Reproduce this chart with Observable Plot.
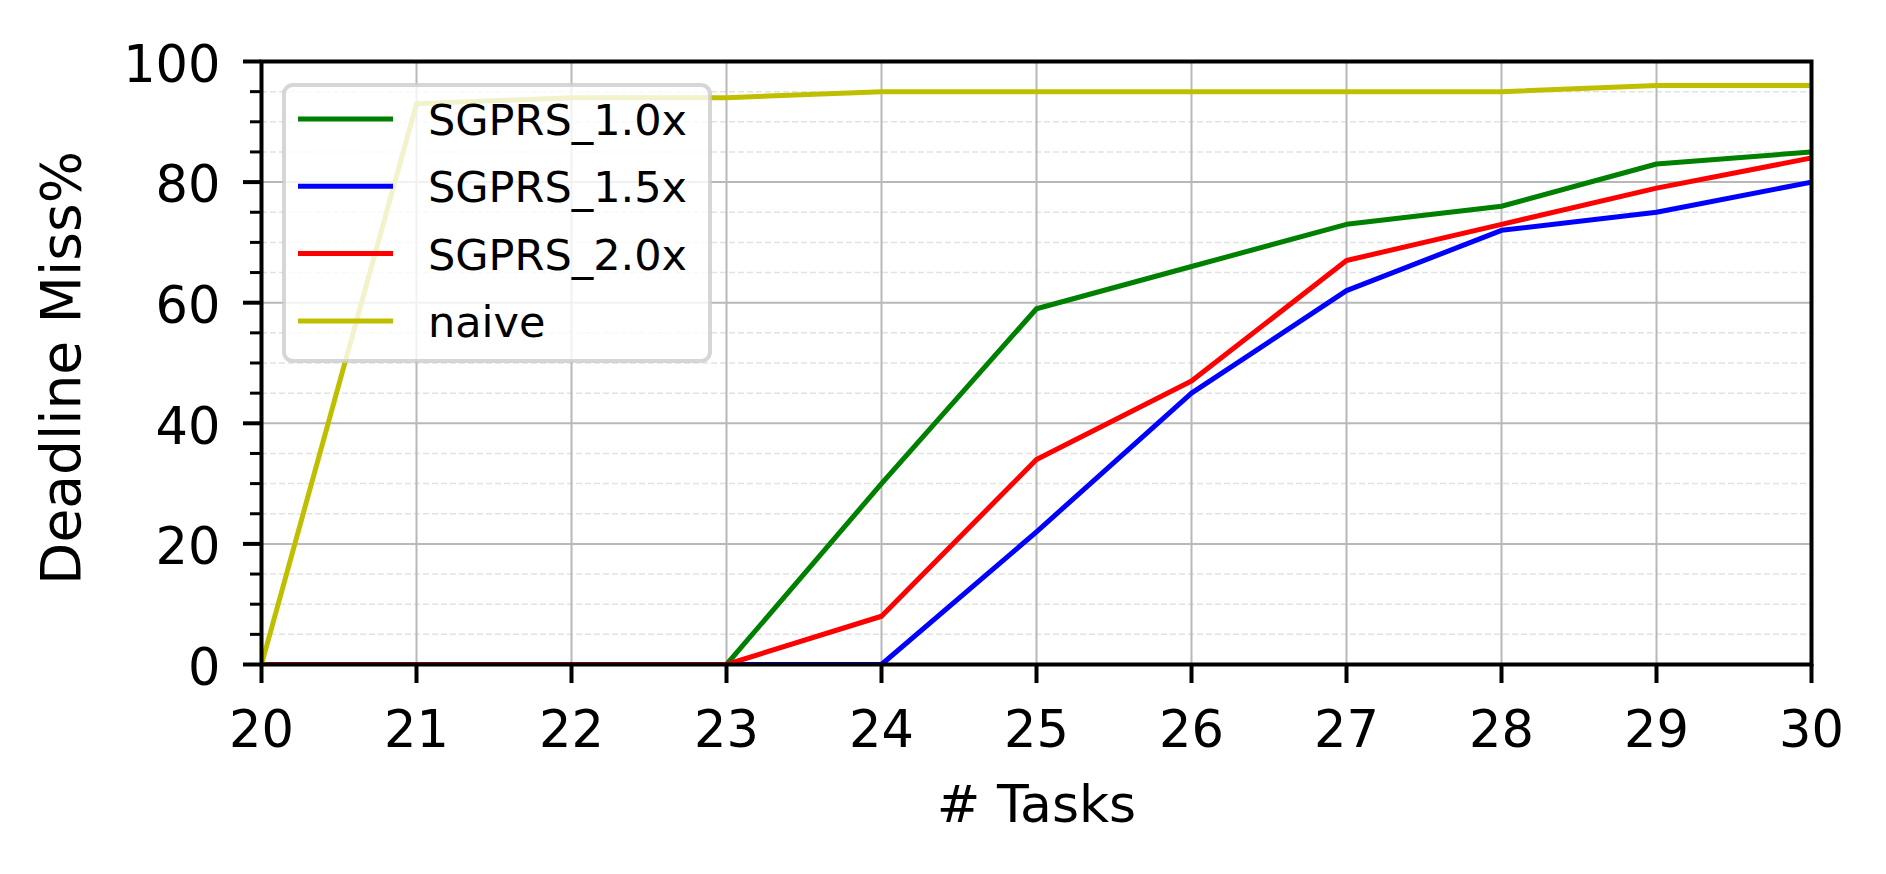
<!DOCTYPE html>
<html>
<head>
<meta charset="utf-8">
<script src="https://cdn.jsdelivr.net/npm/d3@7"></script>
<script src="https://cdn.jsdelivr.net/npm/@observablehq/plot@0.6"></script>
<style>
  html, body { margin: 0; padding: 0; background: #ffffff; }
  #chart svg { display: block; }
</style>
</head>
<body>
<div id="chart"></div>
<script>
// ---- data ----
const tasks = [20, 21, 22, 23, 24, 25, 26, 27, 28, 29, 30];
const seriesNames = ["SGPRS_1.0x", "SGPRS_1.5x", "SGPRS_2.0x", "naive"];
const sgprs10 = [0, 0, 0, 0, 30, 59, 66, 73, 76, 83, 85];
const sgprs15 = [0, 0, 0, 0, 0, 22, 45, 62, 72, 75, 80];
const sgprs20 = [0, 0, 0, 0, 8, 34, 47, 67, 73, 79, 84];
const naive   = [0, 93, 94, 94, 95, 95, 95, 95, 95, 96, 96];
const seriesColors = ["#008000", "#0000ff", "#ff0000", "#bfbf00"];
const xTicks = [20, 21, 22, 23, 24, 25, 26, 27, 28, 29, 30];
const yMajorTicks = [0, 20, 40, 60, 80, 100];
const yMinorTicks = [5, 10, 15, 25, 30, 35, 45, 50, 55, 65, 70, 75, 85, 90, 95];
const xLabel = "# Tasks";
const yLabel = "Deadline Miss%";

const seriesValues = [sgprs10, sgprs15, sgprs20, naive];
const series = seriesNames.map((name, i) => ({
  name,
  color: seriesColors[i],
  rows: tasks.map((t, j) => ({task: t, value: seriesValues[i][j], name}))
}));

const FONT = "DejaVu Sans";

const svg = Plot.plot({
  width: 1886,
  height: 874,
  marginLeft: 261,
  marginRight: 75,
  marginTop: 61,
  marginBottom: 210,
  style: {fontFamily: FONT, background: "#ffffff", color: "#000000", overflow: "visible"},
  x: {domain: [20, 30], label: null},
  y: {domain: [0, 100], label: null},
  marks: [
    // minor grid (dashed)
    Plot.ruleY(yMinorTicks, {stroke: "#e2e2e2", strokeWidth: 1.5, strokeDasharray: "6,3"}),
    // major grid
    Plot.ruleX(xTicks, {stroke: "#b8b8b8", strokeWidth: 2}),
    Plot.ruleY(yMajorTicks, {stroke: "#b8b8b8", strokeWidth: 2}),
    // series lines
    ...series.map(s => Plot.line(s.rows, {
      x: "task", y: "value", stroke: s.color, strokeWidth: 5,
      strokeLinejoin: "round", clip: true
    })),
    // frame
    Plot.frame({stroke: "#000000", strokeWidth: 4}),
    // x axis ticks + labels
    Plot.axisX(xTicks, {anchor: "bottom", tickSize: 19, strokeWidth: 4, stroke: "#000000", fill: "none", label: null}),
    Plot.axisX(xTicks, {anchor: "bottom", tickSize: 0, tickPadding: 46, fontSize: 51, fill: "#000000", label: null, tickFormat: d => String(d)}),
    // y axis major ticks, minor ticks, labels
    Plot.axisY(yMajorTicks, {anchor: "left", tickSize: 18, strokeWidth: 4, stroke: "#000000", fill: "none", label: null}),
    Plot.axisY(yMinorTicks, {anchor: "left", tickSize: 11, strokeWidth: 3, stroke: "#000000", fill: "none", label: null}),
    Plot.axisY(yMajorTicks, {anchor: "left", tickSize: 0, tickPadding: 41, dy: 4, fontSize: 51, fill: "#000000", label: null, tickFormat: d => String(d)}),
    // axis titles
    Plot.text([xLabel], {frameAnchor: "bottom", text: d => d, fontSize: 52, fill: "#000000", textAnchor: "middle", lineAnchor: "middle", dy: 141}),
    Plot.text([yLabel], {frameAnchor: "left", text: d => d, fontSize: 55, fill: "#000000", rotate: -90, textAnchor: "middle", lineAnchor: "middle", dx: -199, dy: 5})
  ]
});

// ---- legend (drawn on top, semi-transparent box like matplotlib) ----
const lg = d3.select(svg).append("g")
  .attr("font-family", FONT)
  .attr("text-anchor", "start");
lg.append("rect")
  .attr("x", 284).attr("y", 85).attr("width", 426).attr("height", 276)
  .attr("rx", 9).attr("ry", 9)
  .style("fill", "rgba(255,255,255,0.8)")
  .style("stroke", "rgba(204,204,204,0.8)")
  .style("stroke-width", "4px");
series.forEach((s, i) => {
  const yy = 119 + i * 67.3;
  lg.append("line")
    .attr("x1", 298).attr("x2", 393).attr("y1", yy).attr("y2", yy)
    .style("stroke", s.color).style("stroke-width", "5px");
  lg.append("text")
    .attr("x", 428).attr("y", yy + 16)
    .style("font-size", "43px").style("fill", "#000000")
    .attr("text-anchor", "start")
    .text(s.name);
});

document.getElementById("chart").appendChild(svg);
</script>
</body>
</html>
